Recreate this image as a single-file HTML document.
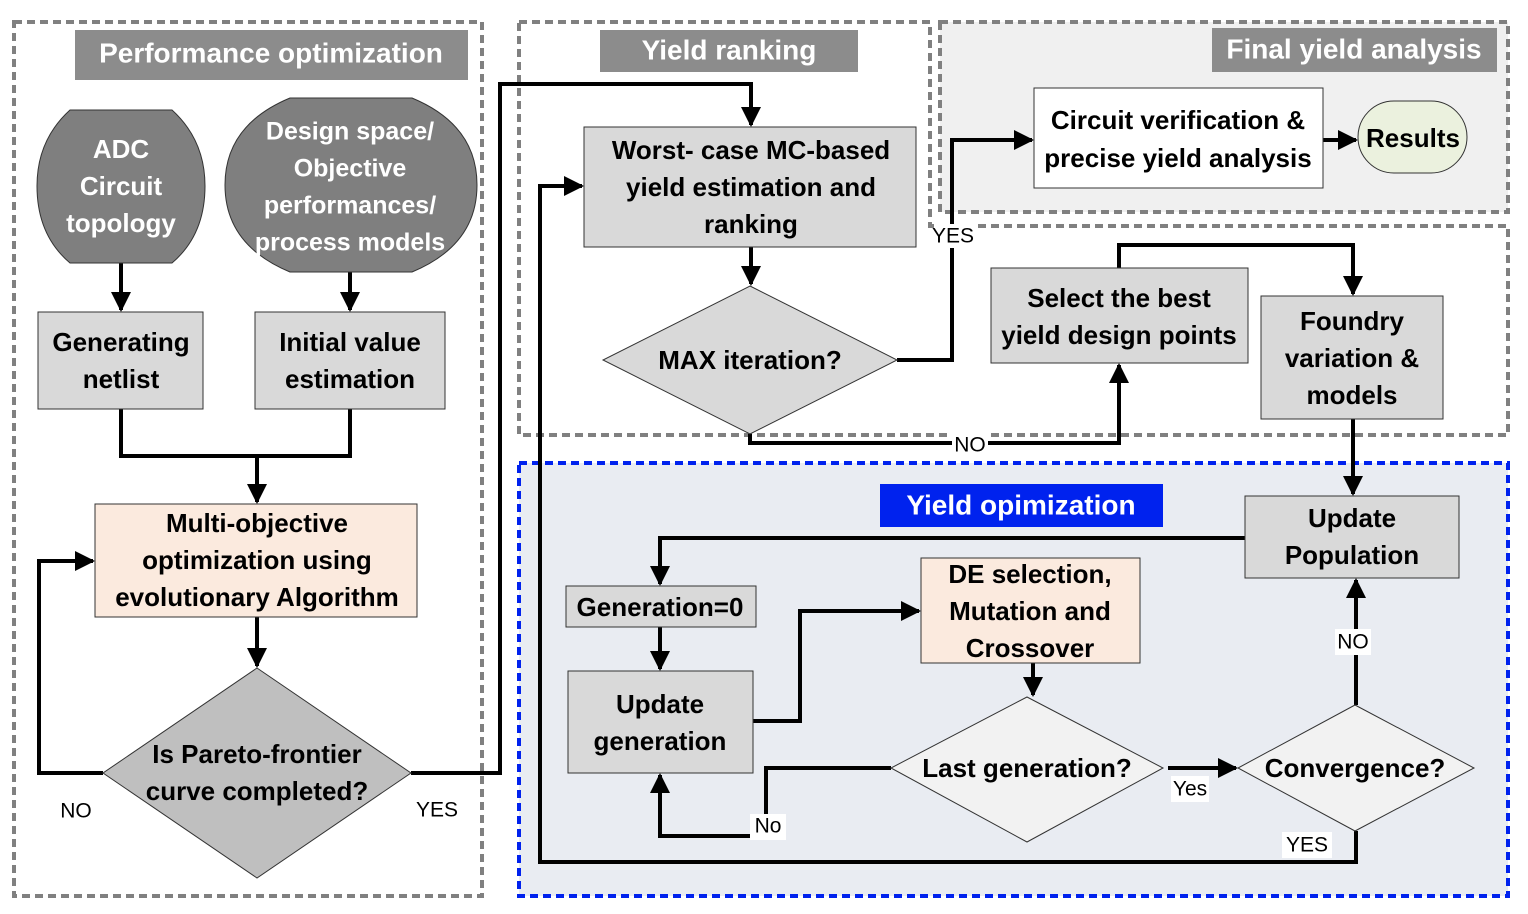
<!DOCTYPE html>
<html><head><meta charset="utf-8"><style>
html,body{margin:0;padding:0;background:#fff;}
svg{display:block;}
text{font-family:"Liberation Sans",sans-serif;font-weight:bold;font-size:26px;text-anchor:middle;dominant-baseline:middle;fill:#000;}
.w{fill:#fff;}
.t{font-size:28px;}
.n{font-weight:normal;font-size:21px;}
</style></head><body>
<svg width="1528" height="914" viewBox="0 0 1528 914" xmlns="http://www.w3.org/2000/svg">
<defs>
<marker id="a" viewBox="0 0 10 10" refX="9" refY="5" markerWidth="5" markerHeight="5" orient="auto" markerUnits="strokeWidth"><path d="M0,0L10,5L0,10z" fill="#000"/></marker>
</defs>
<rect x="940" y="22" width="568" height="190" fill="#f0f0f0" stroke="#808080" stroke-width="4" stroke-dasharray="8,5"/>
<rect x="14" y="22" width="468" height="874" fill="none" stroke="#808080" stroke-width="4" stroke-dasharray="8,5"/>
<path d="M519,22H930V226H1508V435H519Z" fill="none" stroke="#808080" stroke-width="4" stroke-dasharray="8,5"/>
<rect x="519" y="463" width="989" height="433" fill="#e9ecf2" stroke="#0022ee" stroke-width="4" stroke-dasharray="8,5"/>
<g transform="translate(0,2)">
<rect x="75" y="28" width="393" height="50" fill="#8c8c8c"/><text class="w t" x="271" y="53">Performance optimization</text>
<rect x="600" y="28" width="258" height="42" fill="#8c8c8c"/><text class="w t" x="729" y="50">Yield ranking</text>
<rect x="1212" y="26" width="285" height="44" fill="#8c8c8c"/><text class="w t" x="1354" y="49">Final yield analysis</text>
<rect x="880" y="482" width="283" height="43" fill="#0022ee"/><text class="w t" x="1021" y="505">Yield opimization</text>
</g>
<g fill="none" stroke="#000" stroke-width="4">
<path d="M121,263V310" marker-end="url(#a)"/>
<path d="M350,272V310" marker-end="url(#a)"/>
<path d="M121,409V456H350V409"/>
<path d="M257,456V502" marker-end="url(#a)"/>
<path d="M257,617V666" marker-end="url(#a)"/>
<path d="M103,773H39V561H93" marker-end="url(#a)"/>
<path d="M411,773H500V84H751V125" marker-end="url(#a)"/>
<path d="M751,247V284" marker-end="url(#a)"/>
<path d="M897,360H952V140H1032" marker-end="url(#a)"/>
<path d="M750,434V443H1119V365" marker-end="url(#a)"/>
<path d="M1323,140H1356" marker-end="url(#a)"/>
<path d="M1119,268V245H1353V294" marker-end="url(#a)"/>
<path d="M1353,419V494" marker-end="url(#a)"/>
<path d="M1245,538H660V584" marker-end="url(#a)"/>
<path d="M660,627V669" marker-end="url(#a)"/>
<path d="M753,721H800V611H919" marker-end="url(#a)"/>
<path d="M1033,663V695" marker-end="url(#a)"/>
<path d="M891,768H766V836H660V775" marker-end="url(#a)"/>
<path d="M1168,768H1236" marker-end="url(#a)"/>
<path d="M1356,705V580" marker-end="url(#a)"/>
<path d="M1356,831V862H540V186H582" marker-end="url(#a)"/>
</g>
<g stroke="#333" stroke-width="1">
<path d="M70,110H172Q205,140 205,186Q205,235 172,263H70Q37,235 37,186Q37,140 70,110Z" fill="#7f7f7f"/>
<path d="M290,98H412Q477,125 477,185Q477,245 412,272H290Q225,245 225,185Q225,125 290,98Z" fill="#7f7f7f"/>
<rect x="38" y="312" width="165" height="97" fill="#d9d9d9"/>
<rect x="255" y="312" width="190" height="97" fill="#d9d9d9"/>
<rect x="95" y="504" width="322" height="113" fill="#fbeade"/>
<path d="M257,668L411,773L257,878L103,773Z" fill="#bfbfbf"/>
<rect x="584" y="127" width="332" height="120" fill="#d9d9d9"/>
<path d="M750,286L897,360L750,434L603,360Z" fill="#d9d9d9"/>
<rect x="1034" y="88" width="289" height="100" fill="#fff"/>
<rect x="1358" y="101" width="109" height="72" rx="36" fill="#ebf1de"/>
<rect x="991" y="268" width="257" height="95" fill="#d9d9d9"/>
<rect x="1261" y="296" width="182" height="123" fill="#d9d9d9"/>
<rect x="1245" y="496" width="214" height="82" fill="#d9d9d9"/>
<rect x="566" y="586" width="190" height="41" fill="#d9d9d9"/>
<rect x="568" y="671" width="185" height="102" fill="#d9d9d9"/>
<rect x="921" y="558" width="219" height="105" fill="#fbeade"/>
<path d="M1027,697L1163,768L1027,842L891,768Z" fill="#f2f2f2"/>
<path d="M1355,705L1474,768L1355,831L1238,768Z" fill="#f2f2f2"/>
</g>
<g transform="translate(0,2)">
<text class="w" x="121" y="149">ADC</text><text class="w" x="121" y="186">Circuit</text><text class="w" x="121" y="223">topology</text>
<text class="w" x="350" y="131" style="font-size:25px">Design space/</text><text class="w" x="350" y="168" style="font-size:25px">Objective</text><text class="w" x="350" y="205" style="font-size:25px">performances/</text><text class="w" x="350" y="242" style="font-size:25px">process models</text>
<text x="121" y="342">Generating</text><text x="121" y="379">netlist</text>
<text x="350" y="342">Initial value</text><text x="350" y="379">estimation</text>
<text x="257" y="523">Multi-objective</text><text x="257" y="560">optimization using</text><text x="257" y="597">evolutionary Algorithm</text>
<text x="257" y="754">Is Pareto-frontier</text><text x="257" y="791">curve completed?</text>
<text x="751" y="150">Worst- case MC-based</text><text x="751" y="187">yield estimation and</text><text x="751" y="224">ranking</text>
<text x="750" y="360">MAX iteration?</text>
<text x="1178" y="120">Circuit verification &amp;</text><text x="1178" y="158">precise yield analysis</text>
<text x="1413" y="138">Results</text>
<text x="1119" y="298">Select the best</text><text x="1119" y="335">yield design points</text>
<text x="1352" y="321">Foundry</text><text x="1352" y="358">variation &amp;</text><text x="1352" y="395">models</text>
<text x="1352" y="518">Update</text><text x="1352" y="555">Population</text>
<text x="660" y="607">Generation=0</text>
<text x="660" y="704">Update</text><text x="660" y="741">generation</text>
<text x="1030" y="574">DE selection,</text><text x="1030" y="611">Mutation and</text><text x="1030" y="648">Crossover</text>
<text x="1027" y="768">Last generation?</text>
<text x="1355" y="768">Convergence?</text>
</g>
<rect x="934" y="224" width="40" height="24" fill="#fff"/><text class="n" x="953" y="237">YES</text>
<rect x="952" y="433" width="36" height="24" fill="#fff"/><text class="n" x="970" y="446">NO</text>
<rect x="750" y="814" width="36" height="26" fill="#fff"/><text class="n" x="768" y="827">No</text>
<rect x="1171" y="776" width="38" height="26" fill="#fff"/><text class="n" x="1190" y="790">Yes</text>
<rect x="1335" y="629" width="36" height="26" fill="#fff"/><text class="n" x="1353" y="643">NO</text>
<rect x="1282" y="832" width="50" height="26" fill="#fff"/><text class="n" x="1307" y="846">YES</text>
<text class="n" x="76" y="812">NO</text>
<text class="n" x="437" y="811">YES</text>
</svg>
</body></html>
